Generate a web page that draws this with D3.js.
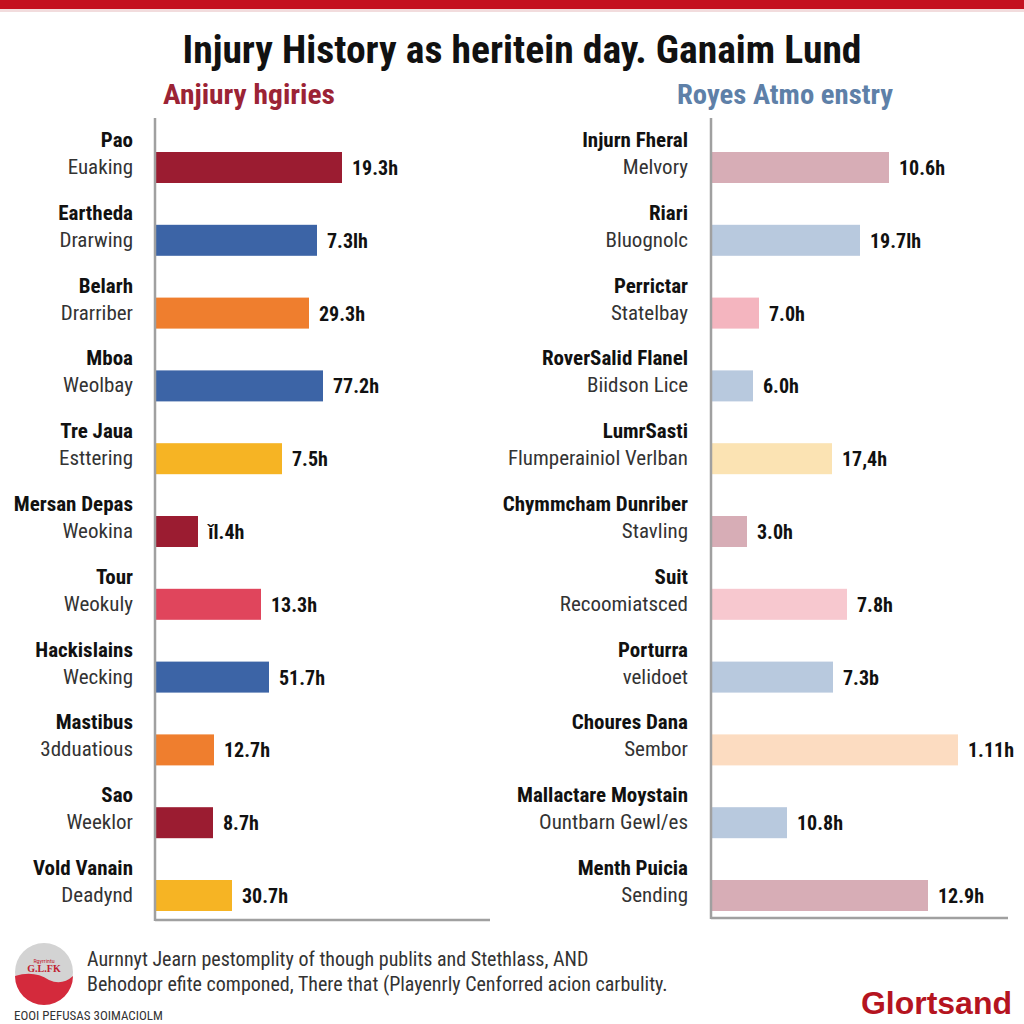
<!DOCTYPE html>
<html>
<head>
<meta charset="utf-8">
<script src="https://cdn.jsdelivr.net/npm/d3@7"></script>
<style>
  html, body { margin: 0; padding: 0; background: #ffffff; }
  svg { display: block; }
</style>
</head>
<body>
<script>
// ---------------- DATA ----------------
const title = "Injury History as heritein day. Ganaim Lund";
const leftSubtitle = "Anjiury hgiries";
const rightSubtitle = "Royes Atmo enstry";

const leftNames = ["Pao", "Eartheda", "Belarh", "Mboa", "Tre Jaua", "Mersan Depas", "Tour", "Hackislains", "Mastibus", "Sao", "Vold Vanain"];
const leftSubs = ["Euaking", "Drarwing", "Drarriber", "Weolbay", "Esttering", "Weokina", "Weokuly", "Wecking", "3dduatious", "Weeklor", "Deadynd"];
// bar lengths as drawn (relative units, 0-100)
const leftValues = [74.4, 64.4, 61.2, 66.8, 50.4, 16.8, 42.0, 45.2, 23.2, 22.8, 30.4];
const leftLabels = ["19.3h", "7.3lh", "29.3h", "77.2h", "7.5h", "ǐl.4h", "13.3h", "51.7h", "12.7h", "8.7h", "30.7h"];
const leftColors = ["#9b1c31", "#3c64a6", "#ef7e2e", "#3c64a6", "#f6b424", "#9b1c31", "#e0455c", "#3c64a6", "#ef7e2e", "#9b1c31", "#f6b424"];

const rightNames = ["Injurn Fheral", "Riari", "Perrictar", "RoverSalid Flanel", "LumrSasti", "Chymmcham Dunriber", "Suit", "Porturra", "Choures Dana", "Mallactare Moystain", "Menth Puicia"];
const rightSubs = ["Melvory", "Bluognolc", "Statelbay", "Biidson Lice", "Flumperainiol Verlban", "Stavling", "Recoomiatsced", "velidoet", "Sembor", "Ountbarn Gewl/es", "Sending"];
const rightValues = [70.8, 59.2, 18.8, 16.4, 48.0, 14.0, 54.0, 48.4, 98.4, 30.0, 86.4];
const rightLabels = ["10.6h", "19.7lh", "7.0h", "6.0h", "17,4h", "3.0h", "7.8h", "7.3b", "1.11h", "10.8h", "12.9h"];
const rightColors = ["#d7adb6", "#b8c9de", "#f4b5bf", "#b8c9de", "#fbe3b3", "#d7adb6", "#f7c8cf", "#b8c9de", "#fcdcc1", "#b8c9de", "#d7adb6"];

const footerLines = [
  "Aurnnyt Jearn pestomplity of though publits and Stethlass, AND",
  "Behodopr efite componed, There that (Playenrly Cenforred acion carbulity."
];
const footerBottom = "EOOI PEFUSAS 3OIMACIOLM";
const brand = "Glortsand";

// ---------------- CHART ----------------
const W = 1024, H = 1024;
const FN = "'Liberation Sans Narrow', 'Roboto Condensed', 'Arial Narrow', 'Liberation Sans', sans-serif";

const svg = d3.select("body").append("svg").attr("width", W).attr("height", H);
svg.append("rect").attr("width", W).attr("height", H).attr("fill", "#ffffff");

// top red band
svg.append("rect").attr("x", 0).attr("y", 0).attr("width", W).attr("height", 9).attr("fill", "#c4101f");
svg.append("rect").attr("x", 0).attr("y", 9).attr("width", W).attr("height", 3).attr("fill", "#e9c4c7").attr("opacity", 0.6);

svg.append("text").attr("x", 522).attr("y", 63).attr("text-anchor", "middle")
  .attr("font-family", FN).attr("font-weight", "bold").attr("font-size", 38).attr("fill", "#111")
  .attr("textLength", 679).attr("lengthAdjust", "spacingAndGlyphs")
  .text(title);

svg.append("text").attr("x", 163).attr("y", 104)
  .attr("font-family", FN).attr("font-weight", "bold").attr("font-size", 27).attr("fill", "#9b2335")
  .attr("textLength", 172).attr("lengthAdjust", "spacingAndGlyphs")
  .text(leftSubtitle);
svg.append("text").attr("x", 677).attr("y", 104)
  .attr("font-family", FN).attr("font-weight", "bold").attr("font-size", 27).attr("fill", "#5e80a8")
  .attr("textLength", 216).attr("lengthAdjust", "spacingAndGlyphs")
  .text(rightSubtitle);

function panel(cfg) {
  const g = svg.append("g");
  const x = d3.scaleLinear().domain([0, 100]).range([cfg.x0, cfg.x0 + 250]);
  const y = d3.scaleBand().domain(cfg.names).range([116, 116 + cfg.names.length * 72.8]);
  const rows = cfg.names.map((n, i) => ({ name: n, sub: cfg.subs[i], v: cfg.values[i], lab: cfg.labels[i], c: cfg.colors[i] }));

  g.selectAll("rect.bar").data(rows).join("rect").attr("class", "bar")
    .attr("x", x(0) + 1).attr("y", d => y(d.name) + 36)
    .attr("width", d => x(d.v) - x(0)).attr("height", 31)
    .attr("fill", d => d.c);

  g.selectAll("text.nm").data(rows).join("text").attr("class", "nm")
    .attr("x", cfg.labelX).attr("y", d => y(d.name) + 31).attr("text-anchor", "end")
    .attr("font-family", FN).attr("font-weight", "bold").attr("font-size", 21).attr("fill", "#111")
    .text(d => d.name);
  g.selectAll("text.sb").data(rows).join("text").attr("class", "sb")
    .attr("x", cfg.labelX).attr("y", d => y(d.name) + 58).attr("text-anchor", "end")
    .attr("font-family", FN).attr("font-size", 21).attr("fill", "#333")
    .text(d => d.sub);
  g.selectAll("text.val").data(rows).join("text").attr("class", "val")
    .attr("x", d => x(d.v) + 11).attr("y", d => y(d.name) + 59)
    .attr("font-family", FN).attr("font-weight", "bold").attr("font-size", 20).attr("fill", "#111")
    .text(d => d.lab);

  // axis lines
  g.append("line").attr("x1", x(0)).attr("x2", x(0)).attr("y1", 118).attr("y2", cfg.bottom + 1)
    .attr("stroke", "#a0a0a0").attr("stroke-width", 2.5);
  g.append("line").attr("x1", x(0)).attr("x2", cfg.xEnd).attr("y1", cfg.bottom).attr("y2", cfg.bottom)
    .attr("stroke", "#a0a0a0").attr("stroke-width", 2.5);
}

panel({ x0: 155, labelX: 133, names: leftNames, subs: leftSubs, values: leftValues, labels: leftLabels, colors: leftColors, bottom: 920, xEnd: 490 });
panel({ x0: 711, labelX: 688, names: rightNames, subs: rightSubs, values: rightValues, labels: rightLabels, colors: rightColors, bottom: 918, xEnd: 1008 });

// logo
const logo = svg.append("g").attr("transform", "translate(44,972)");
logo.append("circle").attr("r", 29).attr("fill", "#d3d3d3");
logo.append("path").attr("d", "M-29,4 Q-10,-2 5,8 Q18,14 29,4 A29,29 0 0 1 -29,4 Z").attr("fill", "#d42a3c");
logo.append("text").attr("y", -9).attr("text-anchor", "middle").attr("font-family", FN).attr("font-size", 6).attr("fill", "#c0202f").text("Rgyrrintu");
logo.append("text").attr("y", 0).attr("text-anchor", "middle").attr("font-family", "'Liberation Serif', serif").attr("font-weight", "bold").attr("font-size", 10).attr("fill", "#c0202f").text("G.L.FK");

footerLines.forEach((t, i) => {
  svg.append("text").attr("x", 87).attr("y", 966 + i * 25)
    .attr("font-family", FN).attr("font-size", 20).attr("fill", "#333").text(t);
});
svg.append("text").attr("x", 14).attr("y", 1020)
  .attr("font-family", FN).attr("font-size", 13).attr("fill", "#333").text(footerBottom);

svg.append("text").attr("x", 1012).attr("y", 1014).attr("text-anchor", "end")
  .attr("font-family", "'Liberation Sans', Arial, sans-serif").attr("font-weight", "bold").attr("font-size", 32).attr("fill", "#b5141f")
  .text(brand);
</script>
</body>
</html>
